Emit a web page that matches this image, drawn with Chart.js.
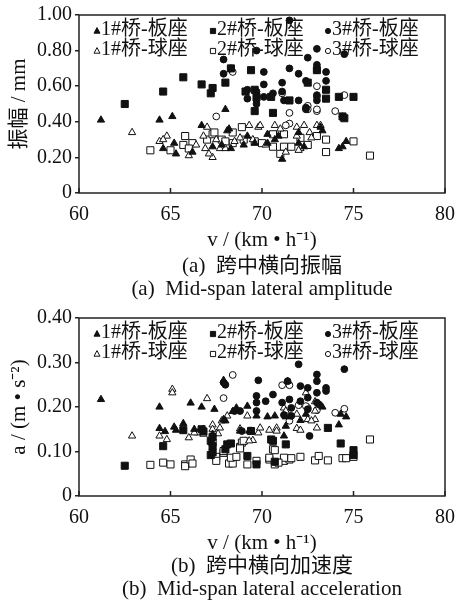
<!DOCTYPE html>
<html>
<head>
<meta charset="utf-8">
<script src="https://cdn.jsdelivr.net/npm/chart.js@4/dist/chart.umd.min.js"></script>
<style>
  body { margin: 0; background: #fff; }
  #wrap { position: relative; width: 457px; height: 601px; overflow: hidden; }
  canvas { position: absolute; left: 0; }
  .cap { position: absolute; left: 62px; width: 400px; text-align: center; white-space: pre;
         font: 21px 'Liberation Serif', 'Noto Sans CJK SC', serif; line-height: 24px; color: #111; }
</style>
</head>
<body>
<div id="wrap">
  <canvas id="ampChart" width="457" height="255" style="top:0"></canvas>
  <div class="cap" style="top:253px">(a)  跨中横向振幅</div>
  <div class="cap" style="top:276px">(a)  Mid-span lateral amplitude</div>
  <canvas id="accChart" width="457" height="255" style="top:303px"></canvas>
  <div class="cap" style="top:553px">(b)  跨中横向加速度</div>
  <div class="cap" style="top:576px">(b)  Mid-span lateral acceleration</div>
</div>
<script>
const seriesLabels = ['1#桥-板座', '2#桥-板座', '3#桥-板座', '1#桥-球座', '2#桥-球座', '3#桥-球座'];
const xTicks = [60, 65, 70, 75, 80];
const ampTicks = [0, 0.2, 0.4, 0.6, 0.8, 1.0];
const accTicks = [0, 0.1, 0.2, 0.3, 0.4];

// amplitude (mm) vs speed (km/h)
const ampPlate1 = [[61.2,0.41],[64.4,0.41],[65.1,0.43],[64.6,0.25],[65.2,0.28],[65.3,0.22],[66.2,0.23],[66.7,0.38],
  [68.0,0.47],[68.3,0.25],[67.8,0.27],[68.1,0.35],[68.2,0.36],[69.2,0.32],[69.0,0.27],[70.3,0.33],[70.3,0.28],
  [70.7,0.30],[70.9,0.32],[71.1,0.19],[72.0,0.34],[72.0,0.28],[72.3,0.26],[73.3,0.35],[73.2,0.37],[74.2,0.25],
  [74.4,0.26],[74.6,0.29],[69.6,0.28],[67.3,0.26]];
const ampPlate2 = [[62.5,0.50],[64.6,0.57],[65.7,0.65],[66.7,0.61],[67.3,0.59],[67.2,0.56],[68.0,0.62],[68.3,0.70],
  [69.4,0.69],[69.1,0.57],[69.6,0.46],[69.7,0.54],[70.5,0.54],[70.6,0.45],[71.5,0.52],[72.5,0.62],[73.5,0.58],
  [73.5,0.53],[74.2,0.54],[75.0,0.54],[74.4,0.43],[74.5,0.42],[73.0,0.69],[69.6,0.58]];
const ampPlate3 = [[67.9,0.75],[67.9,0.67],[68.3,0.70],[69.2,0.53],[69.7,0.50],[71.5,0.97],[70.1,0.68],[71.5,0.70],
  [72.0,0.67],[72.5,0.76],[73.0,0.72],[73.0,0.69],[73.5,0.68],[73.5,0.63],[71.1,0.62],[71.1,0.57],[70.1,0.61],
  [70.6,0.56],[71.2,0.52],[72.0,0.52],[69.7,0.52],[73.0,0.81],[74.5,0.78],[72.4,0.63],[72.4,0.48],[72.4,0.47],
  [73.0,0.55],[73.0,0.52],[74.4,0.43],[69.7,0.80],[69.2,0.58],[70.1,0.54],[69.7,0.57]];
const ampBall1 = [[62.9,0.34],[64.4,0.29],[64.8,0.32],[64.6,0.30],[66.0,0.21],[66.4,0.27],[66.9,0.25],[67.3,0.20],
  [67.1,0.22],[67.0,0.37],[66.8,0.32],[67.7,0.25],[68.0,0.25],[68.8,0.31],[69.3,0.38],[69.8,0.37],[69.9,0.38],
  [70.7,0.38],[71.0,0.36],[71.9,0.37],[72.3,0.38],[73.0,0.38],[73.2,0.38],[72.6,0.34],[72.7,0.31],[71.3,0.23],
  [72.1,0.25],[69.5,0.30],[71.9,0.32],[72.0,0.24],[68.5,0.29],[70.2,0.27],[67.5,0.30]];
const ampBall2 = [[63.9,0.24],[65.0,0.24],[65.8,0.32],[65.7,0.27],[66.2,0.28],[67.0,0.30],[67.3,0.33],[67.4,0.34],
  [67.8,0.30],[68.4,0.34],[68.4,0.28],[68.9,0.37],[69.6,0.29],[70.6,0.33],[71.2,0.33],[70.6,0.26],[71.2,0.26],
  [71.0,0.22],[71.6,0.26],[72.1,0.31],[73.0,0.32],[73.5,0.30],[73.5,0.23],[75.0,0.29],[75.9,0.21],[68.0,0.29],
  [69.0,0.30],[66.0,0.25],[70.0,0.28],[72.5,0.27]];
const ampBall3 = [[67.5,0.43],[68.4,0.68],[73.0,0.60],[73.0,0.54],[73.0,0.46],[74.5,0.55],[74.0,0.46],[71.5,0.45],
  [71.5,0.39],[72.5,0.49],[71.1,0.56],[73.0,0.47],[72.5,0.47],[71.3,0.38]];

// acceleration (m/s2) vs speed (km/h)
const accPlate1 = [[61.2,0.217],[64.4,0.200],[64.4,0.152],[64.7,0.145],[65.2,0.155],[65.3,0.148],[65.7,0.163],
  [66.1,0.209],[66.3,0.150],[66.7,0.200],[66.8,0.150],[67.4,0.195],[67.3,0.139],[68.0,0.169],[68.6,0.198],
  [69.2,0.202],[69.7,0.180],[69.4,0.146],[67.9,0.260],[67.9,0.172],[69.3,0.146],[70.3,0.178],[70.7,0.180],
  [71.3,0.178],[71.4,0.258],[71.3,0.157],[68.8,0.146],[72.1,0.170],[72.4,0.184],[73.3,0.200],[74.3,0.184],
  [74.6,0.178],[74.2,0.160],[71.2,0.135],[68.4,0.190]];
const accPlate2 = [[62.5,0.068],[64.6,0.112],[65.7,0.148],[66.7,0.150],[66.8,0.145],[67.2,0.124],[67.3,0.112],
  [67.2,0.092],[68.0,0.105],[68.3,0.118],[69.2,0.090],[69.7,0.071],[67.3,0.133],[67.3,0.098],[68.1,0.116],
  [70.5,0.127],[71.3,0.116],[70.7,0.077],[73.6,0.153],[74.3,0.118],[75.0,0.103],[75.0,0.092],[70.6,0.124],[69.4,0.146]];
const accPlate3 = [[67.9,0.255],[69.8,0.260],[69.7,0.225],[69.7,0.210],[69.7,0.191],[68.5,0.191],[68.9,0.146],
  [70.2,0.213],[70.6,0.228],[71.1,0.210],[71.5,0.217],[71.6,0.198],[71.6,0.180],[72.0,0.296],[71.4,0.258],
  [68.8,0.191],[73.0,0.273],[73.0,0.258],[74.5,0.285],[72.1,0.247],[72.5,0.243],[73.5,0.243],[73.5,0.236],
  [73.0,0.232],[72.1,0.213],[72.5,0.221],[73.1,0.206],[72.5,0.195],[72.6,0.135],[71.2,0.182],[73.0,0.210],[68.0,0.250]];
const accBall1 = [[62.9,0.135],[64.4,0.135],[64.8,0.127],[65.1,0.240],[65.1,0.232],[66.0,0.131],[66.5,0.142],
  [67.0,0.219],[67.3,0.160],[67.7,0.153],[67.6,0.140],[67.8,0.169],[68.1,0.180],[68.8,0.151],[69.2,0.180],
  [69.5,0.125],[69.8,0.142],[69.9,0.153],[70.4,0.148],[70.8,0.153],[70.8,0.146],[71.2,0.198],[71.3,0.191],
  [66.3,0.142],[66.8,0.139],[67.3,0.150],[72.4,0.232],[72.9,0.212],[72.9,0.191],[72.5,0.172],[72.9,0.172],
  [71.9,0.152],[72.1,0.148],[73.0,0.153],[71.9,0.184],[72.7,0.169],[69.3,0.124]];
const accBall2 = [[63.9,0.070],[64.6,0.075],[65.0,0.071],[65.8,0.071],[65.8,0.067],[66.1,0.082],[66.2,0.073],
  [67.3,0.120],[67.5,0.088],[67.5,0.079],[67.9,0.097],[68.2,0.073],[68.4,0.073],[68.3,0.086],[68.6,0.088],
  [68.8,0.110],[68.9,0.120],[69.2,0.071],[69.7,0.079],[67.9,0.101],[68.8,0.107],[69.0,0.124],[70.4,0.082],
  [70.6,0.105],[70.7,0.071],[71.2,0.079],[71.5,0.082],[70.4,0.086],[70.7,0.103],[71.2,0.086],[71.6,0.085],
  [72.1,0.088],[72.9,0.080],[73.1,0.090],[73.6,0.080],[74.4,0.085],[74.6,0.085],[75.0,0.088],[75.9,0.127],[70.9,0.075]];
const accBall3 = [[68.4,0.272],[67.9,0.220],[71.1,0.249],[71.5,0.249],[71.5,0.169],[72.0,0.204],[72.5,0.198],
  [73.0,0.193],[74.0,0.187],[74.5,0.196],[72.4,0.202]];

const font = "'Liberation Serif', 'Noto Sans CJK SC', serif";
Chart.defaults.font.family = font;
Chart.defaults.font.size = 20;
Chart.defaults.color = '#111';

const markers = [
  { style: 'triangle', radius: 4.2, fill: '#111' },
  { style: 'rect', radius: 5, fill: '#111' },
  { style: 'circle', radius: 3.4, fill: '#111' },
  { style: 'triangle', radius: 4.2, fill: '#fff' },
  { style: 'rect', radius: 5, fill: '#fff' },
  { style: 'circle', radius: 3.4, fill: '#fff' }
];

// box round the plot and inward x ticks
const framePlugin = {
  id: 'frame',
  beforeDatasetsDraw(chart) {
    const { ctx, chartArea: a, scales } = chart;
    ctx.save();
    ctx.strokeStyle = '#222';
    ctx.lineWidth = 1.5;
    ctx.strokeRect(a.left, a.top, a.right - a.left, a.bottom - a.top);
    ctx.beginPath();
    xTicks.forEach(v => {
      const px = scales.x.getPixelForValue(v);
      ctx.moveTo(px, a.bottom);
      ctx.lineTo(px, a.bottom - 5);
    });
    ctx.stroke();
    ctx.restore();
  }
};

// legend inside the plot, 3 columns x 2 rows, small marker right before the text
const legendCols = [18, 134, 249];
function legendMarker(ctx, style, x, y) {
  ctx.beginPath();
  if (style === 'triangle') {
    ctx.moveTo(x, y - 3.4); ctx.lineTo(x + 3, y + 2.2); ctx.lineTo(x - 3, y + 2.2); ctx.closePath();
  } else if (style === 'rect') {
    ctx.rect(x - 2.6, y - 2.6, 5.2, 5.2);
  } else {
    ctx.arc(x, y, 2.6, 0, Math.PI * 2);
  }
  ctx.fill();
  ctx.stroke();
}
const legendPlugin = {
  id: 'innerLegend',
  afterDatasetsDraw(chart) {
    const { ctx, chartArea: a } = chart;
    ctx.save();
    ctx.font = '20px ' + font;
    ctx.textBaseline = 'middle';
    ctx.lineWidth = 1;
    ctx.strokeStyle = '#111';
    chart.data.datasets.forEach((ds, i) => {
      const x = a.left + legendCols[i % 3];
      const y = a.top + 15 + Math.floor(i / 3) * 20;
      ctx.fillStyle = ds.backgroundColor;
      legendMarker(ctx, ds.pointStyle, x, y + 1);
      ctx.fillStyle = '#111';
      ctx.fillText(ds.label, x + 4, y);
    });
    ctx.restore();
  }
};

function makeChart(id, series, yTicks, yMax, yTitle) {
  const datasets = series.map((pts, i) => ({
    label: seriesLabels[i],
    data: pts.map(p => ({ x: p[0], y: p[1] })),
    pointStyle: markers[i].style,
    pointRadius: markers[i].radius,
    backgroundColor: markers[i].fill,
    borderColor: '#111',
    borderWidth: 1
  }));
  return new Chart(document.getElementById(id), {
    type: 'scatter',
    data: { datasets },
    plugins: [framePlugin, legendPlugin],
    options: {
      responsive: false,
      animation: false,
      layout: { padding: { top: 15, right: 12, left: 0, bottom: 0 } },
      plugins: {
        tooltip: { enabled: false },
        legend: { display: false }
      },
      scales: {
        x: {
          min: 60, max: 80,
          afterBuildTicks: s => { s.ticks = xTicks.map(v => ({ value: v })); },
          afterFit: s => { s.height = 62; s.paddingLeft = 0; s.paddingRight = 0; },
          grid: { display: true, drawOnChartArea: false, drawTicks: false },
          border: { display: false },
          ticks: { padding: 10, maxRotation: 0 },
          title: { display: true, text: 'v / (km • h⁻¹)', font: { size: 21 }, padding: { top: 0, bottom: 1.5 } }
        },
        y: {
          min: 0, max: yMax,
          afterBuildTicks: s => { s.ticks = yTicks.map(v => ({ value: v })); },
          afterFit: s => { s.width = 79; s.paddingTop = 0; s.paddingBottom = 0; },
          grid: { drawOnChartArea: false, drawTicks: true, tickLength: 4, color: '#222', lineWidth: 1.5 },
          border: { display: false },
          ticks: { padding: 3, callback: v => v === 0 ? '0' : v.toFixed(2) },
          title: { display: true, text: yTitle, font: { size: 21 }, padding: { top: 7, bottom: 0 } }
        }
      }
    }
  });
}

makeChart('ampChart', [ampPlate1, ampPlate2, ampPlate3, ampBall1, ampBall2, ampBall3], ampTicks, 1.0, '振幅 / mm');
makeChart('accChart', [accPlate1, accPlate2, accPlate3, accBall1, accBall2, accBall3], accTicks, 0.4, 'a / (m • s⁻²)');
</script>
</body>
</html>
